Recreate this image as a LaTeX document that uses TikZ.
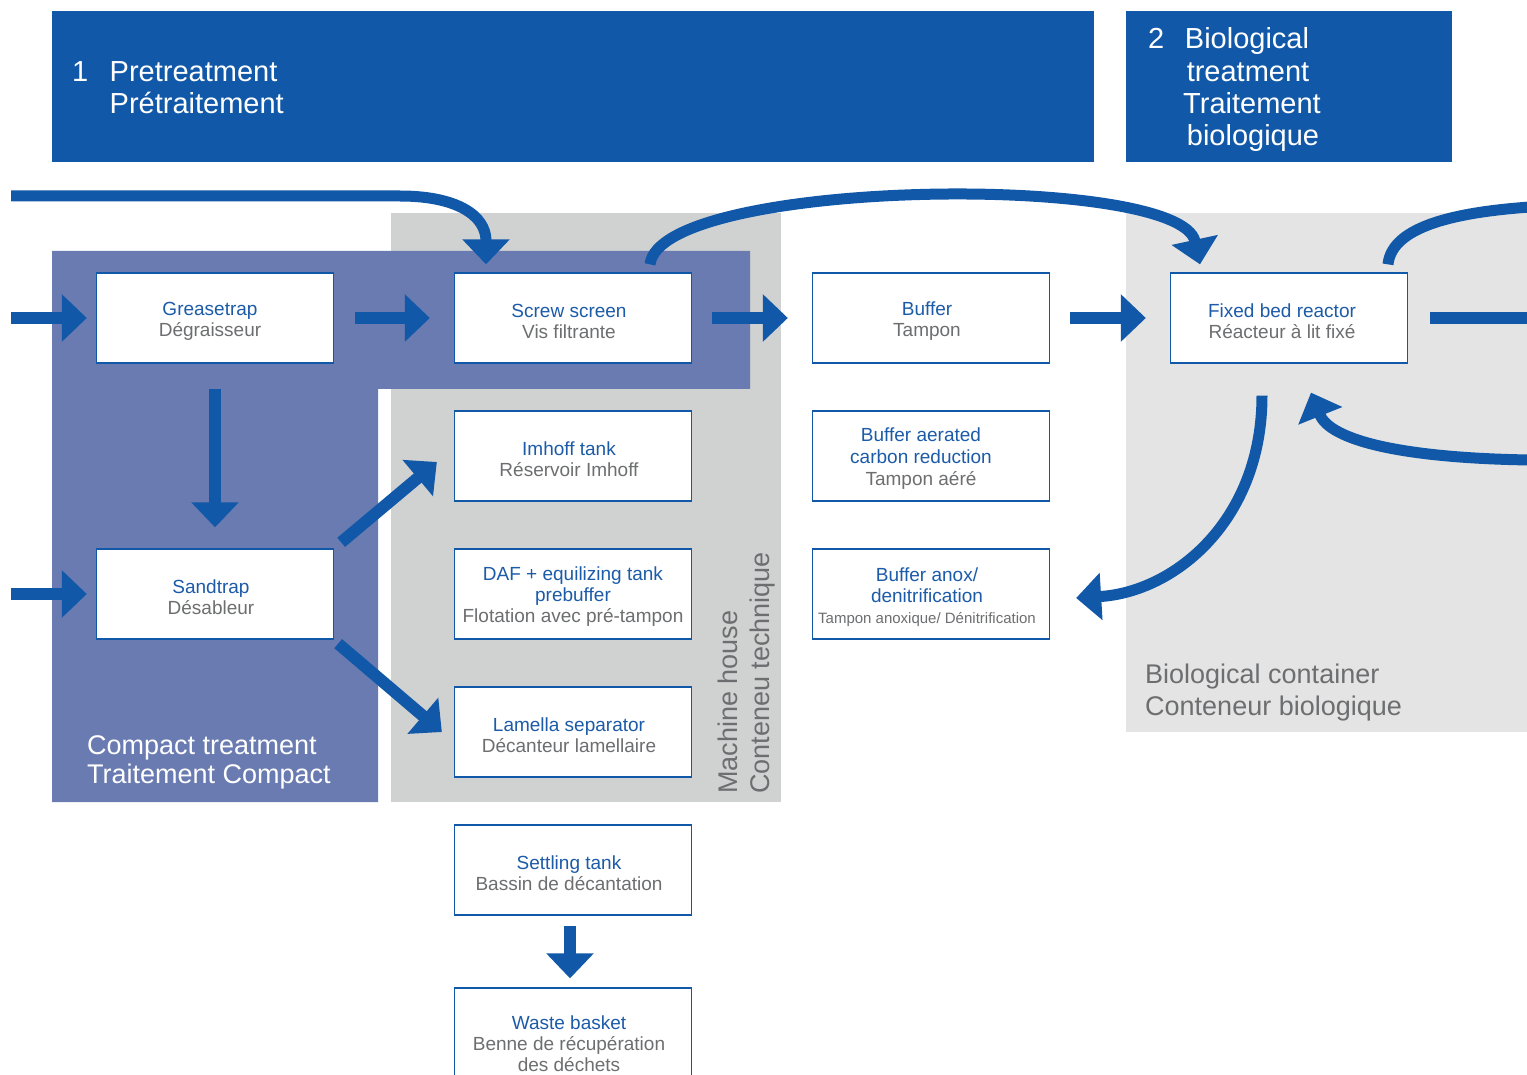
\documentclass[tikz,border=0pt]{standalone}
\usepackage{fontspec}
\setmainfont{Liberation Sans}
\usetikzlibrary{arrows.meta,calc}
\definecolor{hblue}{HTML}{1159A8}
\definecolor{purp}{HTML}{6A7BB1}
\definecolor{gmach}{HTML}{D0D1D1}
\definecolor{gbio}{HTML}{E4E4E4}
\definecolor{tgray}{HTML}{6D6E70}
\definecolor{tblue}{HTML}{1C5BA8}
\begin{document}
\begin{tikzpicture}[x=1pt,y=-1pt,
  box/.style={draw=hblue, line width=1.3pt, fill=white, minimum width=237pt, minimum height=90pt,
    inner sep=0pt},
  btx/.style={align=center, text=tgray, inner sep=0pt, font=\fontsize{19}{21}\selectfont},
  bt/.style={btx, xshift=-4pt, yshift=-3pt},
  flow/.style={draw=hblue, line width=12pt, -{Triangle[width=46pt,length=25pt]}},
  curveflow/.style={draw=hblue, line width=11pt, -{Triangle[width=46pt,length=25pt]}},
  headtxt/.style={text=white, inner sep=0pt, font=\fontsize{29}{32}\selectfont},
  areatxt/.style={inner sep=0pt, font=\fontsize{27}{30}\selectfont}
]
\useasboundingbox (0,0) rectangle (1527,1075);
\fill[white] (0,0) rectangle (1527,1075);

% headers
\fill[hblue] (52,11) rectangle (1094,162);
\fill[hblue] (1126,11) rectangle (1452,162);
\node[headtxt, anchor=base west] (h1n) at (72,82) {1};
\node[headtxt, anchor=base west] (h1a) at (109.5,82) {Pretreatment};
\node[headtxt, anchor=base west] (h1b) at (109.5,114) {Prétraitement};
\node[headtxt, anchor=base west] (h2n) at (1148,49) {2};
\node[headtxt, anchor=base] (h2a) at (1247,49) {Biological};
\node[headtxt, anchor=base] (h2b) at (1248,82) {treatment};
\node[headtxt, anchor=base] (h2c) at (1252,114) {Traitement};
\node[headtxt, anchor=base] (h2d) at (1253,146) {biologique};

% areas
\fill[gmach] (391,213) rectangle (781,802);
\fill[gbio] (1126,213) rectangle (1530,732);
\fill[purp] (52,251) -- (750,251) -- (750,389) -- (378,389) -- (378,802) -- (52,802) -- cycle;

\node[areatxt, text=white, anchor=base west] (ct1) at (87,754) {Compact treatment};
\node[areatxt, text=white, anchor=base west] (ct2) at (87,783) {Traitement Compact};
\node[areatxt, text=tgray, anchor=base west] (bc1) at (1145,683) {Biological container};
\node[areatxt, text=tgray, anchor=base west] (bc2) at (1145,715) {Conteneur biologique};
\node[areatxt, text=tgray, anchor=base west, rotate=90] (mh1) at (737,794) {Machine house};
\node[areatxt, text=tgray, anchor=base west, rotate=90] (mh2) at (769,794) {Conteneu technique};

% boxes
\node[box, label={[bt, xshift=-1pt]center:{{\color{tblue}Greasetrap}\\Dégraisseur}}] (grease) at (215,318) {};
\node[box, label={[bt]center:{{\color{tblue}Screw screen}\\Vis filtrante}}] (screw) at (573,318) {};
\node[box, label={[bt]center:{{\color{tblue}Buffer}\\Tampon}}] (buffer) at (931,318) {};
\node[box, label={[bt, xshift=-3pt]center:{{\color{tblue}Fixed bed reactor}\\Réacteur à lit fixé}}] (fixed) at (1289,318) {};
\node[box, label={[bt]center:{{\color{tblue}Sandtrap}\\Désableur}}] (sand) at (215,594) {};
\node[box, label={[bt]center:{{\color{tblue}Imhoff tank}\\Réservoir Imhoff}}] (imhoff) at (573,456) {};
\node[box, label={[btx, xshift=0pt, yshift=-3pt]center:{{\color{tblue}DAF + equilizing tank}\\{\color{tblue}prebuffer}\\Flotation avec pré-tampon}}] (daf) at (573,594) {};
\node[box, label={[bt]center:{{\color{tblue}Lamella separator}\\Décanteur lamellaire}}] (lamella) at (573,732) {};
\node[box, label={[btx, xshift=-10pt, yshift=-3pt, font=\fontsize{19}{22}\selectfont]center:{{\color{tblue}Buffer aerated}\\{\color{tblue}carbon reduction}\\Tampon aéré}}] (aerated) at (931,456) {};
\node[box, label={[btx, xshift=-4pt, yshift=-3pt]center:{{\color{tblue}Buffer anox/}\\{\color{tblue}denitrification}\\{\fontsize{15}{19}\selectfont Tampon anoxique/ Dénitrification}}}] (anox) at (931,594) {};
\node[box, label={[bt]center:{{\color{tblue}Settling tank}\\Bassin de décantation}}] (settle) at (573,870) {};
\node[box, minimum height=110pt, label={[btx, xshift=-4pt, yshift=-1pt]center:{{\color{tblue}Waste basket}\\Benne de récupération\\des déchets}}] (waste) at (573,1043) {};

% straight connectors
\coordinate (inA) at (11,318);
\coordinate (inB) at (11,594);
\coordinate (outR) at (1530,318);
\draw[flow, shorten >=9pt] (inA) -- (grease);
\draw[flow, shorten >=9pt] (inB) -- (sand);
\draw[flow, shorten <=21pt, shorten >=24pt] (grease) -- (screw);
\draw[flow, shorten <=20pt, shorten >=24pt] (screw) -- (buffer);
\draw[flow, shorten <=20pt, shorten >=24pt] (buffer) -- (fixed);
\draw[draw=hblue, line width=12pt, shorten <=22pt] (fixed) -- (outR);
\draw[flow, shorten <=25pt, shorten >=21pt] (grease) -- (sand);
\draw[flow] ($(sand.north east)+(7,-6)$) -- ($(imhoff.west)+(-17,6)$);
\draw[flow] ($(sand.south east)+(4,4)$) -- ($(lamella.west)+(-12,0)$);
\draw[flow, shorten <=10pt, shorten >=9pt] ($(settle.south)+(-3,0)$) -- ($(waste.north)+(-3,0)$);

% curved connectors
\coordinate (inTop) at (11,196);
\coordinate (outTop) at (1530,207);
\coordinate (inRet) at (1530,460);
\draw[curveflow] (inTop) -- (400,196) .. controls (456,196) and (486,215) .. ($(screw.north)+(-87,-8)$);
\draw[curveflow] ($(screw.north)+(77,-8)$) .. controls (660,178) and (1180,172) .. ($(fixed.north)+(-89,-8)$);
\draw[draw=hblue, line width=11pt] ($(fixed.north)+(99,-8)$) .. controls (1392,225) and (1460,212) .. (outTop);
\draw[curveflow] (inRet) .. controls (1400,458) and (1330,440) .. ($(fixed.south)+(22,29)$);
\draw[curveflow] ($(fixed.south)+(-27,32)$) .. controls (1262,520) and (1175,592) .. ($(anox.east)+(26,4)$);
\end{tikzpicture}
\end{document}
